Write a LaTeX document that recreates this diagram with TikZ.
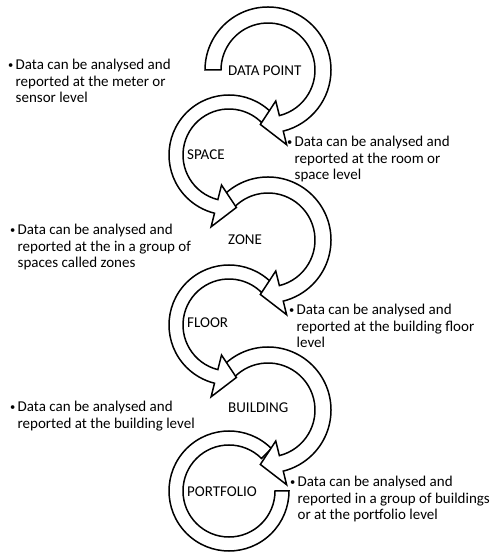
\documentclass[tikz,border=0pt]{standalone}
\usepackage{fontspec}
\setmainfont{Carlito}
\newcommand\notefont{\fontsize{15}{16.5}\selectfont}
% bullet cell of a note row
\newcommand\bulletrow{\makebox[7.5pt][l]{\raisebox{1.2pt}{\fontsize{10.5}{10.5}\selectfont\textbullet}}}
% circular band from #1 to #2 degrees round the current origin, outer radius #3,
% inner radius #4, closed by an arrowhead that runs 22 degrees past the end
\newcommand\circarrow[4]{%
  \pgfmathsetmacro\headdir{(#2>#1) ? 22 : -22}%
  \pgfmathsetmacro\tipang{#2+\headdir}%
  \pgfmathsetmacro\midr{(#3+#4)/2}%
  \pgfmathsetmacro\outbarb{#3+14}%
  \pgfmathsetmacro\inbarb{#4-15}%
  \draw[band] (#1:#3) arc[start angle=#1, end angle=#2, radius=#3]
    -- (#2:\outbarb) -- (\tipang:\midr) -- (#2:\inbarb) -- (#2:#4)
    arc[start angle=#2, end angle=#1, radius=#4] -- cycle;}
\begin{document}
\begin{tikzpicture}[x=1pt, y=1pt,
  band/.style={draw=black, line width=1.5pt, fill=white, line join=miter},
  stagelabel/.style={anchor=base west, inner sep=0pt, font=\notefont},
  note/.style={anchor=base west, inner sep=0pt, font=\notefont}]
\useasboundingbox (0,0) rectangle (491,553);

% centres of the six rings
\coordinate (dp) at (268,483);
\coordinate (sp) at (229,398);
\coordinate (zn) at (268,313);
\coordinate (fl) at (229,228);
\coordinate (bu) at (268,143);
\coordinate (pf) at (229,62);

% rings, bottom one first so every arrowhead lies over the next ring's start
\begin{scope}[shift={(pf)}]
  \draw[band] (45:60) arc[start angle=45, end angle=360, radius=60]
    -- (0:46) arc[start angle=360, end angle=45, radius=46] -- cycle;
\end{scope}
\begin{scope}[shift={(bu)}]\circarrow{135}{-76}{63}{47}\end{scope}
\begin{scope}[shift={(fl)}]\circarrow{45}{256}{60}{46}\end{scope}
\begin{scope}[shift={(zn)}]\circarrow{135}{-76}{63}{47}\end{scope}
\begin{scope}[shift={(sp)}]\circarrow{45}{256}{60}{46}\end{scope}
\begin{scope}[shift={(dp)}]\circarrow{180}{-76}{63}{47}\end{scope}

% stage names
\node[stagelabel] (ldp) at (228,477) {DATA POINT};
\node[stagelabel] (lsp) at (187,393) {SPACE};
\node[stagelabel] (lzn) at (228,308) {ZONE};
\node[stagelabel] (lfl) at (187,225) {FLOOR};
\node[stagelabel] (lbu) at (228,140) {BUILDING};
\node[stagelabel] (lpf) at (187,56) {PORTFOLIO};

% notes
\node[note] (n1) at (8,483) {\begin{tabular}[t]{@{}l@{}l@{}}\bulletrow&Data can be analysed and\\
  &reported at the meter or\\&sensor level\end{tabular}};
\node[note] (n2) at (287,406) {\begin{tabular}[t]{@{}l@{}l@{}}\bulletrow&Data can be analysed and\\
  &reported at the room or\\&space level\end{tabular}};
\node[note] (n3) at (10,318) {\begin{tabular}[t]{@{}l@{}l@{}}\bulletrow&Data can be analysed and\\
  &reported at the in a group of\\&spaces called zones\end{tabular}};
\node[note] (n4) at (289,238) {\begin{tabular}[t]{@{}l@{}l@{}}\bulletrow&Data can be analysed and\\
  &reported at the building floor\\&level\end{tabular}};
\node[note] (n5) at (10,141) {\begin{tabular}[t]{@{}l@{}l@{}}\bulletrow&Data can be analysed and\\
  &reported at the building level\end{tabular}};
\node[note] (n6) at (290,66) {\begin{tabular}[t]{@{}l@{}l@{}}\bulletrow&Data can be analysed and\\
  &reported in a group of buildings\\&or at the portfolio level\end{tabular}};
\end{tikzpicture}
\end{document}
